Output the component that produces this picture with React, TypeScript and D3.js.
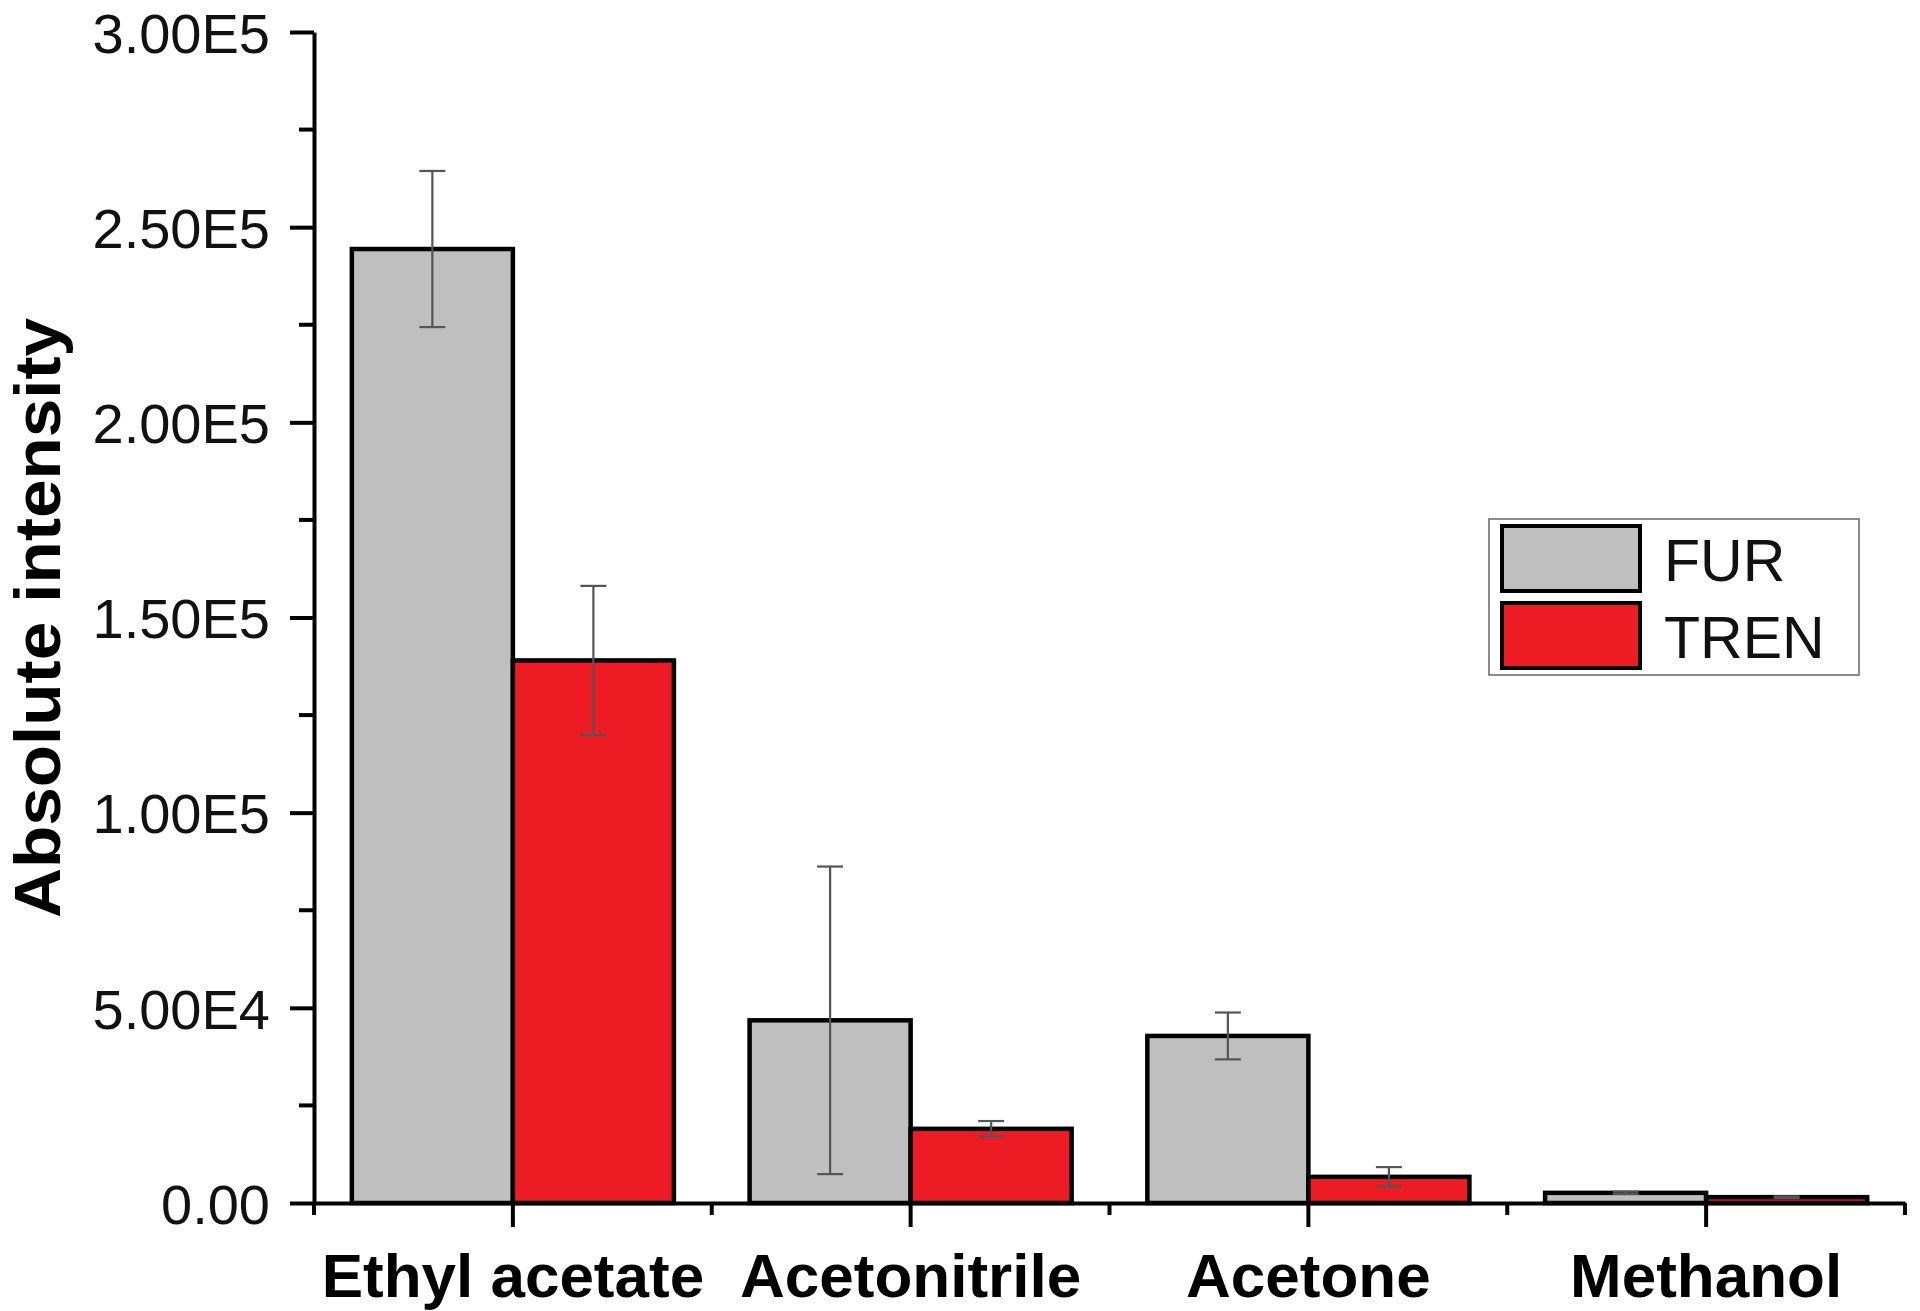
import { useEffect, useRef } from "react";
import * as d3 from "d3";

const categories = ["Ethyl acetate", "Acetonitrile", "Acetone", "Methanol"];
const seriesNames = ["FUR", "TREN"];
const seriesColors = ["#bfbfbf", "#ed1c24"];
const furValues = [244400, 46800, 42800, 2600];
const furErrors = [20000, 39400, 6000, 300];
const trenValues = [139000, 19000, 6700, 1500];
const trenErrors = [19100, 2000, 2500, 200];
const yTicks = [0, 50000, 100000, 150000, 200000, 250000, 300000];
const yMinorTicks = [25000, 75000, 125000, 175000, 225000, 275000];

const W = 1920;
const H = 1311;
const FONT = "'Liberation Sans', Arial, Helvetica, sans-serif";

const fmtSci = (v: number) => {
  if (v === 0) return "0.00";
  const exp = Math.floor(Math.log10(v));
  return `${(v / Math.pow(10, exp)).toFixed(2)}E${exp}`;
};

export default function App() {
  const svgRef = useRef<SVGSVGElement>(null);

  useEffect(() => {
    if (!svgRef.current) return;
    const svg = d3.select(svgRef.current);
    svg.selectAll("*").remove();

    const left = 314;
    const right = 1905;
    const top = 32;
    const bottom = 1203;

    const x = d3.scaleBand<string>().domain(categories).range([left, right]).padding(0);
    const xs = d3
      .scaleBand<string>()
      .domain(seriesNames)
      .range([0, x.bandwidth()])
      .paddingInner(0)
      .paddingOuter(0.235);
    const y = d3.scaleLinear().domain([0, 300000]).range([bottom, top]);

    svg.append("rect").attr("width", W).attr("height", H).attr("fill", "#fff");

    const rows = categories.flatMap((c, i) => [
      { cat: c, s: "FUR", v: furValues[i], e: furErrors[i], color: seriesColors[0] },
      { cat: c, s: "TREN", v: trenValues[i], e: trenErrors[i], color: seriesColors[1] },
    ]);

    // bars
    svg
      .append("g")
      .selectAll("rect")
      .data(rows)
      .join("rect")
      .attr("x", (d) => (x(d.cat) ?? 0) + (xs(d.s) ?? 0))
      .attr("y", (d) => y(d.v))
      .attr("width", xs.bandwidth())
      .attr("height", (d) => y(0) - y(d.v))
      .attr("fill", (d) => d.color)
      .attr("stroke", "#000")
      .attr("stroke-width", 4.5);

    // error bars
    const eg = svg
      .append("g")
      .attr("stroke", "#555")
      .attr("stroke-width", 2.2)
      .selectAll("g")
      .data(rows)
      .join("g")
      .attr("transform", (d) => `translate(${(x(d.cat) ?? 0) + (xs(d.s) ?? 0) + xs.bandwidth() / 2},0)`);
    eg.append("line").attr("y1", (d) => y(d.v + d.e)).attr("y2", (d) => y(d.v - d.e));
    eg.append("line")
      .attr("x1", -13)
      .attr("x2", 13)
      .attr("y1", (d) => y(d.v + d.e))
      .attr("y2", (d) => y(d.v + d.e));
    eg.append("line")
      .attr("x1", -13)
      .attr("x2", 13)
      .attr("y1", (d) => y(d.v - d.e))
      .attr("y2", (d) => y(d.v - d.e));

    // y axis
    const yAxis = svg
      .append("g")
      .attr("transform", `translate(${left},0)`)
      .call(d3.axisLeft(y).tickValues(yTicks).tickSize(24).tickSizeOuter(0).tickPadding(20).tickFormat((d) => fmtSci(+d)));
    yAxis.select(".domain").attr("stroke", "#000").attr("stroke-width", 4);
    yAxis.selectAll(".tick line").attr("stroke", "#000").attr("stroke-width", 4);
    yAxis
      .selectAll(".tick text")
      .attr("fill", "#111")
      .attr("font-family", FONT)
      .attr("font-size", 56)
      .attr("dy", "0.36em");
    svg
      .append("g")
      .selectAll("line")
      .data(yMinorTicks)
      .join("line")
      .attr("x1", left - 15)
      .attr("x2", left)
      .attr("y1", (d) => y(d))
      .attr("y2", (d) => y(d))
      .attr("stroke", "#000")
      .attr("stroke-width", 4);

    // x axis
    const xAxis = svg
      .append("g")
      .attr("transform", `translate(0,${bottom})`)
      .call(d3.axisBottom(x).tickSize(24).tickSizeOuter(0).tickPadding(26));
    xAxis.select(".domain").attr("stroke", "#000").attr("stroke-width", 4);
    xAxis.selectAll(".tick line").attr("stroke", "#000").attr("stroke-width", 4);
    xAxis
      .selectAll(".tick text")
      .attr("fill", "#000")
      .attr("font-family", FONT)
      .attr("font-weight", "bold")
      .attr("font-size", 62)
      .attr("dy", "0.71em");
    const boundaries = categories.map((c) => x(c) ?? 0).concat([right]);
    svg
      .append("g")
      .selectAll("line")
      .data(boundaries)
      .join("line")
      .attr("x1", (d) => d)
      .attr("x2", (d) => d)
      .attr("y1", bottom)
      .attr("y2", bottom + 12)
      .attr("stroke", "#000")
      .attr("stroke-width", 4);

    // y title
    svg
      .append("text")
      .attr("transform", `translate(60,${618}) rotate(-90)`)
      .attr("text-anchor", "middle")
      .attr("font-family", FONT)
      .attr("font-weight", "bold")
      .attr("font-size", 64)
      .attr("textLength", 600)
      .attr("lengthAdjust", "spacingAndGlyphs")
      .attr("fill", "#000")
      .text("Absolute intensity");

    // legend
    const lg = svg.append("g");
    lg.append("rect")
      .attr("x", 1489)
      .attr("y", 519)
      .attr("width", 370)
      .attr("height", 156)
      .attr("fill", "#fff")
      .attr("stroke", "#666")
      .attr("stroke-width", 1.5);
    const items = lg
      .selectAll("g")
      .data(seriesNames)
      .join("g")
      .attr("transform", (_d, i) => `translate(0,${i * 77})`);
    items
      .append("rect")
      .attr("x", 1502)
      .attr("y", 526)
      .attr("width", 138)
      .attr("height", 65)
      .attr("fill", (_d, i) => seriesColors[i])
      .attr("stroke", "#000")
      .attr("stroke-width", 4);
    items
      .append("text")
      .attr("x", 1664)
      .attr("y", 581)
      .attr("font-family", FONT)
      .attr("font-size", 59)
      .attr("fill", "#111")
      .text((d) => d);
  }, []);

  return (
    <svg
      ref={svgRef}
      width={W}
      height={H}
      viewBox={`0 0 ${W} ${H}`}
      style={{ position: "absolute", left: 0, top: 0, display: "block" }}
    />
  );
}
